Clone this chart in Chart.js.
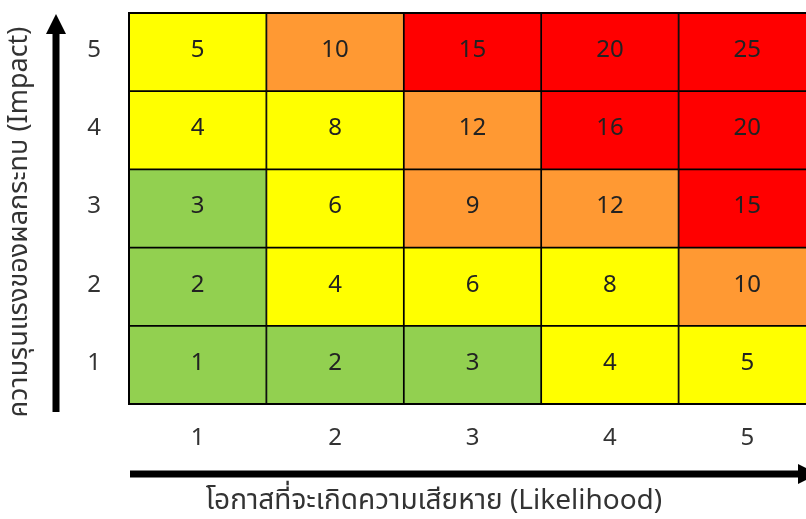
<!DOCTYPE html>
<html><head><meta charset="utf-8">
<script src="https://cdn.jsdelivr.net/npm/chart.js@4/dist/chart.umd.min.js"></script>
<style>
html,body{margin:0;padding:0;background:#fff;overflow:hidden;width:806px;height:519px;}
#wrap{position:absolute;left:0;top:0;width:840px;height:519px;}
</style></head>
<body>
<div id="wrap"><canvas id="c" width="840" height="519"></canvas></div>
<script>
const likelihoodLabels = ['1','2','3','4','5'];
const impactLevels = [1,2,3,4,5];
// score matrix rows by impact (1..5), columns by likelihood (1..5)
const scoresImpact1 = [1,2,3,4,5];
const scoresImpact2 = [2,4,6,8,10];
const scoresImpact3 = [3,6,9,12,15];
const scoresImpact4 = [4,8,12,16,20];
const scoresImpact5 = [5,10,15,20,25];
const levelImpact1 = ['low','low','low','medium','medium'];
const levelImpact2 = ['low','medium','medium','medium','high'];
const levelImpact3 = ['low','medium','high','high','extreme'];
const levelImpact4 = ['medium','medium','high','extreme','extreme'];
const levelImpact5 = ['medium','high','extreme','extreme','extreme'];
const yTitle = 'ความรุนแรงของผลกระทบ (Impact)';
const xTitle = 'โอกาสที่จะเกิดความเสียหาย (Likelihood)';

const colorMap = {low:'#92D050', medium:'#FFFF00', high:'#FF9933', extreme:'#FF0000'};
const scores = [scoresImpact1,scoresImpact2,scoresImpact3,scoresImpact4,scoresImpact5];
const levels = [levelImpact1,levelImpact2,levelImpact3,levelImpact4,levelImpact5];
const FONT = '"Noto Sans Thai","Noto Sans","Open Sans",sans-serif';

const datasets = impactLevels.map((imp, i) => ({
  label: 'Impact ' + imp,
  data: likelihoodLabels.map(() => [imp - 0.5, imp + 0.5]),
  scores: scores[i],
  backgroundColor: levels[i].map(l => colorMap[l]),
  borderColor: '#000',
  borderWidth: 1.2,
  borderSkipped: false,
  grouped: false,
  barPercentage: 1,
  categoryPercentage: 1
}));

const decor = {
  id: 'decor',
  afterDatasetsDraw(chart) {
    const ctx = chart.ctx;
    ctx.save();
    const a = chart.chartArea;
    // outer frame
    ctx.strokeStyle = '#000';
    ctx.lineWidth = 2;
    ctx.strokeRect(a.left, a.top, a.right - a.left, a.bottom - a.top);
    // cell values
    ctx.fillStyle = '#222';
    ctx.font = '24px ' + FONT;
    ctx.textAlign = 'center';
    ctx.textBaseline = 'middle';
    chart.data.datasets.forEach((ds, di) => {
      const meta = chart.getDatasetMeta(di);
      meta.data.forEach((bar, j) => {
        const p = bar.getProps(['x','y','base'], true);
        ctx.fillText(String(ds.scores[j]), p.x, (p.y + p.base) / 2);
      });
    });
    // Y arrow
    ctx.fillStyle = '#000';
    const ax = 56;
    ctx.fillRect(ax - 3.5, 30, 7, 412 - 30);
    ctx.beginPath();
    ctx.moveTo(ax, 14); ctx.lineTo(ax - 10, 34); ctx.lineTo(ax + 10, 34); ctx.closePath(); ctx.fill();
    // X arrow
    const ay = 474;
    ctx.fillRect(a.left + 1, ay - 3.5, 800 - a.left, 7);
    ctx.beginPath();
    ctx.moveTo(818, ay); ctx.lineTo(798, ay - 10); ctx.lineTo(798, ay + 10); ctx.closePath(); ctx.fill();
    // titles
    ctx.fillStyle = '#333';
    ctx.font = '28px ' + FONT;
    ctx.fillText(xTitle, 434, 503);
    ctx.font = '27px ' + FONT;
    ctx.translate(22, 222);
    ctx.rotate(-Math.PI / 2);
    ctx.fillText(yTitle, 0, 0);
    ctx.restore();
  }
};

new Chart(document.getElementById('c'), {
  type: 'bar',
  data: { labels: likelihoodLabels, datasets },
  options: {
    responsive: false,
    animation: false,
    layout: { padding: { left: 0, top: 13, right: 24, bottom: 0 } },
    plugins: { legend: { display: false }, tooltip: { enabled: false } },
    scales: {
      x: {
        grid: { display: false, drawTicks: false },
        border: { display: false },
        ticks: { color: '#333', font: { size: 24, family: FONT }, padding: 22 },
        afterFit: s => { s.height = 115; s.paddingLeft = 0; s.paddingRight = 0; }
      },
      y: {
        min: 0.5, max: 5.5,
        grid: { display: false, drawTicks: false },
        border: { display: false },
        afterBuildTicks: s => { s.ticks = impactLevels.map(v => ({ value: v })); },
        ticks: { color: '#333', font: { size: 24, family: FONT }, padding: 28 },
        afterFit: s => { s.width = 129; s.paddingTop = 0; s.paddingBottom = 0; }
      }
    }
  },
  plugins: [decor]
});
</script>
</body></html>
